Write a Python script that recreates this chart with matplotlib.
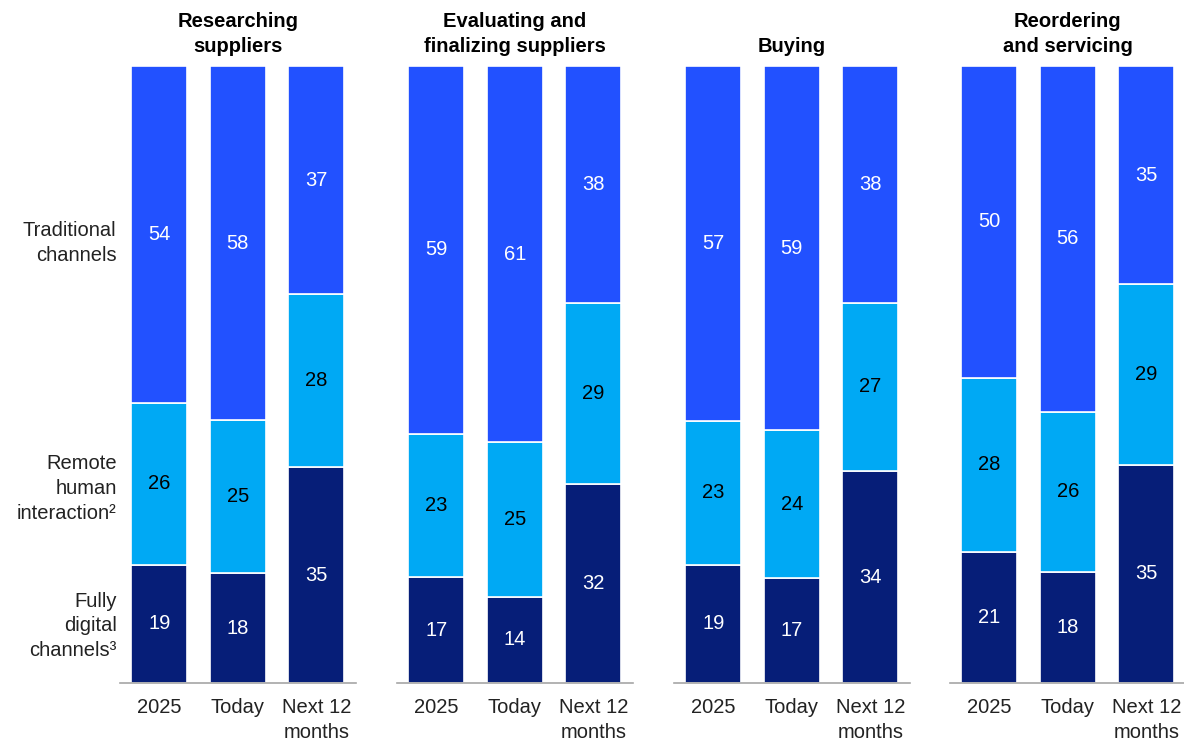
import matplotlib
matplotlib.use("Agg")
import matplotlib.pyplot as plt
import numpy as np

plt.rcParams['font.family'] = ['Liberation Sans', 'DejaVu Sans']

stages = ["Researching\nsuppliers", "Evaluating and\nfinalizing suppliers",
          "Buying", "Reordering\nand servicing"]
periods = ["2025", "Today", "Next 12\nmonths"]
channels = ["Fully\ndigital\nchannels³", "Remote\nhuman\ninteraction²",
            "Traditional\nchannels"]

# share of interactions (%) per stage, one list per period
fully_digital = [[19, 18, 35], [17, 14, 32], [19, 17, 34], [21, 18, 35]]
remote_human = [[26, 25, 28], [23, 25, 29], [23, 24, 27], [28, 26, 29]]
traditional = [[54, 58, 37], [59, 61, 38], [57, 59, 38], [50, 56, 35]]

colors = ["#061E78", "#00A9F4", "#2251FF"]
text_colors = ["white", "black", "white"]
# vertical nudge (points) of the row labels on the left
label_nudge = [-1.5, -3.5, -6]

W, H = 1184, 740
fig = plt.figure(figsize=(W / 100, H / 100), dpi=100)

ax_lefts = [120, 397, 674, 950]
ax_w = 235.5
ax_bottom, ax_top = 683, 66
FS = 14.5
LS = 1.39

for g, left in enumerate(ax_lefts):
    ax = fig.add_axes([left / W, (H - ax_bottom) / H, ax_w / W, (ax_bottom - ax_top) / H])
    series = [fully_digital[g], remote_human[g], traditional[g]]
    totals = np.sum(series, axis=0)
    x = np.arange(len(periods))
    base = np.zeros(len(periods))
    for s, vals in enumerate(series):
        shares = np.array(vals) / totals * 100
        ax.bar(x, shares, bottom=base, width=0.71, color=colors[s],
               edgecolor="white", linewidth=1.2)
        for i, v in enumerate(vals):
            ax.text(x[i], base[i] + shares[i] / 2, str(v), ha="center", va="center",
                    fontsize=FS, color=text_colors[s])
        if g == 0:
            ax.annotate(channels[s], xy=(-0.5, base[0] + shares[0] / 2),
                        xytext=(-2.5, label_nudge[s]), textcoords="offset points",
                        ha="right", va="center", fontsize=FS, color="#222222",
                        linespacing=LS, annotation_clip=False)
        base += shares
    ax.set_xlim(-0.5, 2.5)
    ax.set_ylim(0, 100)
    ax.set_xticks(x)
    ax.set_xticklabels(periods, fontsize=FS, color="#222222", linespacing=LS, va="top")
    ax.tick_params(axis="x", length=0, pad=11)
    ax.set_yticks([])
    for sp in ["top", "right", "left"]:
        ax.spines[sp].set_visible(False)
    ax.spines["bottom"].set_color("#A6A6A6")
    ax.spines["bottom"].set_linewidth(1.2)
    ax.set_title(stages[g], fontsize=FS, fontweight="bold", color="black",
                 linespacing=1.42, pad=10)

fig.savefig("out.png", dpi=100)
